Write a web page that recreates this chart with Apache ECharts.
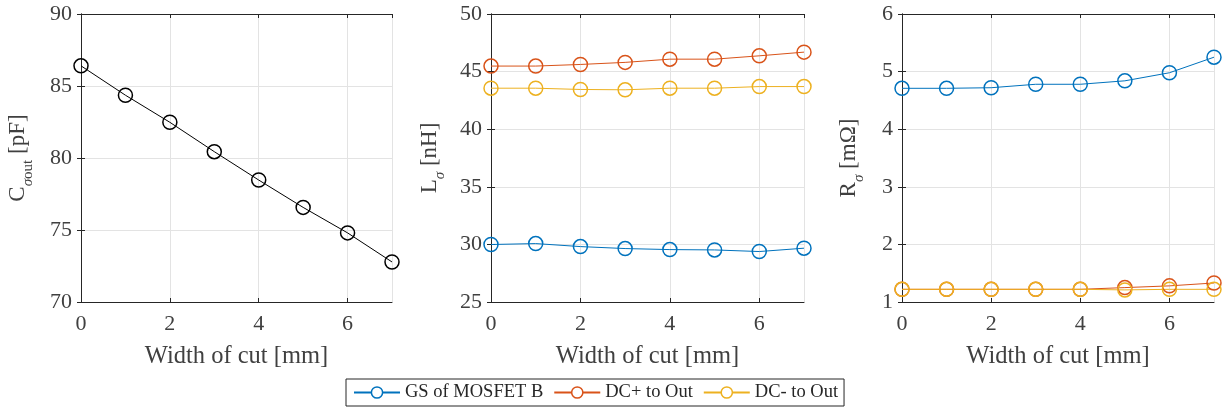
<!DOCTYPE html>
<html><head><meta charset="utf-8">
<script src="https://cdn.jsdelivr.net/npm/echarts@6/dist/echarts.min.js"></script>
<style>html,body{margin:0;padding:0;background:#fff}#c{width:1225px;height:410px}</style>
</head><body><div id="c"></div>
<script>
const widthOfCut = [0, 1, 2, 3, 4, 5, 6, 7];
const cOut = [86.4, 84.36, 82.48, 80.44, 78.47, 76.57, 74.8, 72.78];
const lGS = [29.99, 30.07, 29.81, 29.64, 29.55, 29.52, 29.38, 29.67];
const lDCp = [45.48, 45.48, 45.62, 45.8, 46.08, 46.08, 46.37, 46.69];
const lDCm = [43.56, 43.56, 43.45, 43.42, 43.56, 43.56, 43.7, 43.7];
const rGS = [4.71, 4.71, 4.72, 4.78, 4.78, 4.84, 4.98, 5.25];
const rDCp = [1.22, 1.22, 1.22, 1.22, 1.22, 1.25, 1.28, 1.33];
const rDCm = [1.22, 1.22, 1.22, 1.22, 1.22, 1.21, 1.22, 1.22];
const seriesNames = ['GS of MOSFET B', 'DC+ to Out', 'DC- to Out'];
const xName = 'Width of cut [mm]';

const FONT = '"Liberation Serif", "Times New Roman", serif';
const TXT = '#404040';
const AX = '#262626';
const COLORS = ['#0072BD', '#D95319', '#EDB120'];

const grids = [
  {left: 81, top: 14, width: 311, height: 288},
  {left: 491, top: 14, width: 313, height: 288},
  {left: 902, top: 14, width: 312, height: 288}
];
const yRanges = [[70, 90, 5], [25, 50, 5], [1, 6, 1]];
const yNames = [
  '{a|C}{g|σ}{s|out}{a| [pF]}',
  '{a|L}{g|σ}{a| [nH]}',
  '{a|R}{g|σ}{a| [mΩ]}'
];
const yNameGaps = [45, 43, 35];
const pair = (ys) => widthOfCut.map((x, i) => [x, ys[i]]);

const xAxis = [], yAxis = [];
grids.forEach((g, i) => {
  xAxis.push({
    type: 'value', gridIndex: i, min: 0, max: 7, interval: 2, position: 'bottom',
    name: xName, nameLocation: 'middle', nameGap: 42,
    nameTextStyle: {fontFamily: FONT, fontSize: 24.5, color: TXT},
    axisLine: {show: true, lineStyle: {color: AX, width: 1}},
    axisTick: {show: true, inside: true, length: 4, lineStyle: {color: AX}},
    axisLabel: {fontFamily: FONT, fontSize: 22, color: TXT, margin: 11, showMaxLabel: false},
    splitLine: {show: true, lineStyle: {color: '#e3e3e3', width: 1}}
  });
  xAxis.push({
    type: 'value', gridIndex: i, min: 0, max: 7, interval: 2, position: 'top',
    axisLine: {show: true, lineStyle: {color: AX, width: 1}},
    axisTick: {show: true, inside: true, length: 4, lineStyle: {color: AX}},
    axisLabel: {show: false}, splitLine: {show: false}
  });
  const r = yRanges[i];
  yAxis.push({
    type: 'value', gridIndex: i, min: r[0], max: r[1], interval: r[2], position: 'left',
    name: yNames[i], nameLocation: 'middle', nameGap: yNameGaps[i], nameRotate: 90,
    nameTextStyle: {
      fontFamily: FONT, color: TXT,
      rich: {
        a: {fontFamily: FONT, fontSize: 23, color: TXT, lineHeight: 23, verticalAlign: 'middle'},
        g: {fontFamily: FONT, fontSize: 15, color: TXT, lineHeight: 37, verticalAlign: 'bottom', fontStyle: 'italic'},
        s: {fontFamily: FONT, fontSize: 15, color: TXT, lineHeight: 37, verticalAlign: 'bottom'}
      }
    },
    axisLine: {show: true, lineStyle: {color: AX, width: 1}},
    axisTick: {show: true, inside: true, length: 4, lineStyle: {color: AX}},
    axisLabel: {fontFamily: FONT, fontSize: 22, color: TXT, margin: 9},
    splitLine: {show: true, lineStyle: {color: '#e3e3e3', width: 1}}
  });
  yAxis.push({
    type: 'value', gridIndex: i, min: r[0], max: r[1], interval: r[2], position: 'right',
    axisLine: {show: true, lineStyle: {color: AX, width: 1}},
    axisTick: {show: true, inside: true, length: 4, lineStyle: {color: AX}},
    axisLabel: {show: false}, splitLine: {show: false}
  });
});

function line(name, data, color, gi) {
  return {
    type: 'line', name: name, data: pair(data),
    xAxisIndex: gi * 2, yAxisIndex: gi * 2,
    symbol: 'circle', symbolSize: 14, showSymbol: true,
    lineStyle: {color: color, width: 1},
    itemStyle: {color: 'rgba(255,255,255,0)', borderColor: color, borderWidth: 1.5},
    emphasis: {disabled: true}, animation: false, z: 3
  };
}

const series = [
  line('C_out', cOut, '#000000', 0),
  line(seriesNames[0], lGS, COLORS[0], 1),
  line(seriesNames[1], lDCp, COLORS[1], 1),
  line(seriesNames[2], lDCm, COLORS[2], 1),
  line(seriesNames[0], rGS, COLORS[0], 2),
  line(seriesNames[1], rDCp, COLORS[1], 2),
  line(seriesNames[2], rDCm, COLORS[2], 2)
];

const chart = echarts.init(document.getElementById('c'), null, {renderer: 'canvas'});
chart.setOption({
  animation: false,
  backgroundColor: '#fff',
  grid: grids,
  xAxis: xAxis,
  yAxis: yAxis,
  legend: {
    data: seriesNames.map((n, i) => ({name: n, itemStyle: {color: '#fff', borderColor: COLORS[i], borderWidth: 1.5}})),
    bottom: 4, left: 346,
    itemWidth: 46, itemHeight: 14, itemGap: 10,
    padding: [4, 6, 4, 7],
    borderColor: '#262626', borderWidth: 1,
    textStyle: {fontFamily: FONT, fontSize: 18.5, color: '#262626'}
  },
  series: series
});
</script></body></html>
